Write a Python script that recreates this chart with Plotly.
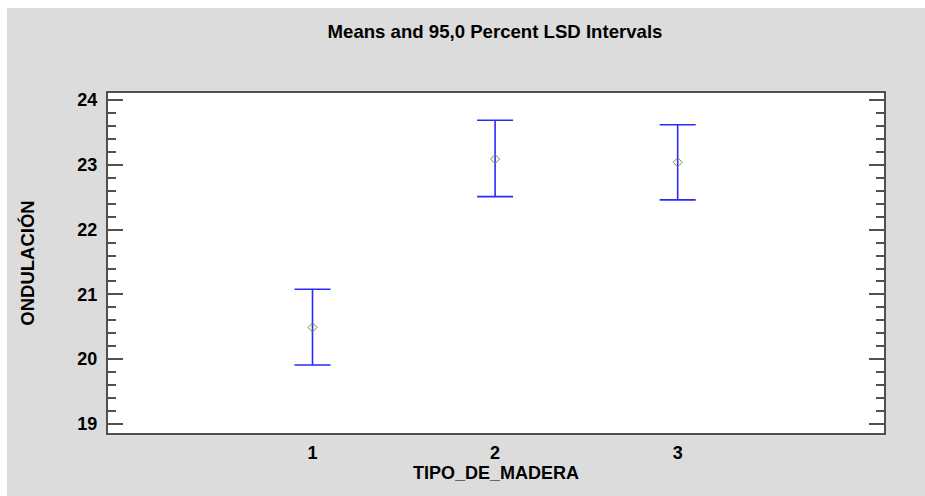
import plotly.graph_objects as go

# Data
categories = [1, 2, 3]
means = [20.49, 23.09, 23.04]
upper = [21.08, 23.69, 23.62]
lower = [19.91, 22.51, 22.46]
y_ticks = [19, 20, 21, 22, 23, 24]
x_ticks = [1, 2, 3]

err_plus = [u - m for u, m in zip(upper, means)]
err_minus = [m - l for m, l in zip(means, lower)]

FONT = "Liberation Sans, Arial, sans-serif"
GRAY_BG = "#dcdcdc"
AXIS = "#505050"

fig = go.Figure()
fig.add_trace(go.Scatter(
    x=categories, y=means, mode="markers",
    marker=dict(symbol="diamond-open", size=7, color="#86863c", line=dict(width=1)),
    error_y=dict(type="data", symmetric=False, array=err_plus, arrayminus=err_minus,
                 color="#2a2aff", thickness=1.6, width=18),
    showlegend=False, hoverinfo="skip",
))

W, H = 925, 496
L, R, T, B = 108, 41, 93, 63
pw, ph = W - L - R, H - T - B

def px_x(p):
    return (p - L) / pw

def px_y(p):
    return (H - B - p) / ph

fig.update_layout(
    width=W, height=H,
    margin=dict(l=L, r=R, t=T, b=B),
    paper_bgcolor=GRAY_BG,
    plot_bgcolor="white",
    font=dict(family=FONT, size=18, color="black"),
    title=dict(text="<b>Means and 95,0 Percent LSD Intervals</b>",
               x=px_x(495), xref="paper", xanchor="center",
               y=1 - 31 / H, yref="container", yanchor="middle",
               font=dict(family=FONT, size=18.6, color="black")),
    xaxis=dict(range=[-0.12, 4.13], tickvals=x_ticks,
               ticktext=[f"<b>{v}</b>" for v in x_ticks],
               showgrid=False, zeroline=False, ticks="",
               showline=True, linecolor=AXIS, linewidth=2, mirror=True,
               ticklabelstandoff=2,
               title=dict(text="<b>TIPO_DE_MADERA</b>", standoff=4,
                          font=dict(family=FONT, size=18))),
    yaxis=dict(range=[18.86, 24.11], tickvals=y_ticks,
               ticktext=[f"<b>{v}</b>" for v in y_ticks],
               showgrid=False, zeroline=False,
               ticks="inside", ticklen=15, tickwidth=1.6, tickcolor=AXIS,
               minor=dict(dtick=0.2, ticks="inside", ticklen=8, tickwidth=1.6,
                          tickcolor=AXIS, showgrid=False),
               showline=True, linecolor=AXIS, linewidth=2, mirror="ticks",
               ticklabelstandoff=5,
               title=dict(text="<b>ONDULACIÓN</b>", standoff=38,
                          font=dict(family=FONT, size=18.5))),
    shapes=[
        dict(type="rect", xref="paper", yref="paper", layer="above",
             x0=px_x(-5), x1=px_x(7), y0=px_y(H + 5), y1=px_y(-5),
             fillcolor="white", line=dict(width=0)),
        dict(type="rect", xref="paper", yref="paper", layer="above",
             x0=px_x(-5), x1=px_x(W + 5), y0=px_y(8), y1=px_y(-5),
             fillcolor="white", line=dict(width=0)),
    ],
)

fig.write_html("out.html")
